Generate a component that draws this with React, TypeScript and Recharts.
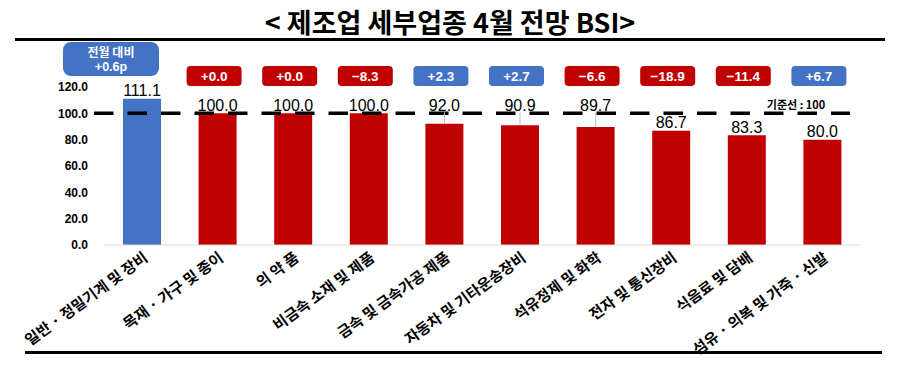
import { BarChart, Bar, XAxis, YAxis, Cell, LabelList, ReferenceLine } from 'recharts';

// 제조업 세부업종 4월 전망 BSI
const categories = [
    '일반 · 정밀기계 및 장비',
    '목재 · 가구 및 종이',
    '의 약 품',
    '비금속 소재 및 제품',
    '금속 및 금속가공 제품',
    '자동차 및 기타운송장비',
    '석유정제 및 화학',
    '전자 및 통신장비',
    '식음료 및 담배',
    '섬유 · 의복 및 가죽 · 신발',
];
const bsiValues = [111.1, 100.0, 100.0, 100.0, 92.0, 90.9, 89.7, 86.7, 83.3, 80.0];
const monthChanges = [0.6, 0.0, 0.0, -8.3, 2.3, 2.7, -6.6, -18.9, -11.4, 6.7];
const yTicks = [0, 20, 40, 60, 80, 100, 120];
const baseLine = 100;

const BLUE = '#4472C4';
const RED = '#C00000';
const KR_FONT = '"Noto Sans CJK KR", "Noto Sans", sans-serif';
const NUM_FONT = '"Liberation Sans", Arial, sans-serif';

const data = categories.map((name, i) => ({ name, bsi: bsiValues[i], change: monthChanges[i] }));

const fmtChange = (v: number) => `${v >= 0 ? '+' : '−'}${Math.abs(v).toFixed(1)}`;

function ValueLabel(props: any) {
    const vb = props.viewBox || props;
    const { x, y, width, height } = vb;
    const value = Number(props.value);
    const cx = x + width / 2;
    const bottom = y + height;
    const ppu = height / value;
    const yBase = bottom - baseLine * ppu;
    // labels that would sit on the base line are lifted above it with a leader line
    const lifted = value < baseLine && (baseLine - value) * ppu < 15;
    const ty = lifted ? yBase - 8 : y - 8;
    return (
        <g>
            {lifted && <line x1={cx} x2={cx} y1={ty + 7} y2={y} stroke="#bfbfbf" strokeWidth={1} />}
            <text x={cx} y={ty} textAnchor="middle" dominantBaseline="central" fontSize={16} fontFamily={NUM_FONT} fill="#000">
                {value.toFixed(1)}
            </text>
        </g>
    );
}

function ChangeBadge(props: any) {
    const vb = props.viewBox || props;
    const { x, y, width, height } = vb;
    const index = props.index;
    const value = Number(props.value);
    const cx = x + width / 2;
    const bottom = y + height;
    const ppu = height / bsiValues[index];
    const yTop = bottom - 120 * ppu;
    const fill = value > 0 ? BLUE : RED;

    if (index === 0) {
        return (
            <g>
                <rect x={cx - 79} y={yTop - 45} width={96} height={34} rx={8} fill={fill} />
                <text x={cx - 31} y={yTop - 36} textAnchor="middle" dominantBaseline="central" fill="#fff" fontSize={12} fontWeight="bold" fontFamily={KR_FONT}>
                    전월 대비
                </text>
                <text x={cx - 31} y={yTop - 20} textAnchor="middle" dominantBaseline="central" fill="#fff" fontSize={12.5} fontWeight="bold" fontFamily={NUM_FONT}>
                    {fmtChange(value)}p
                </text>
            </g>
        );
    }
    return (
        <g>
            <rect x={cx - 31} y={yTop - 21} width={55} height={20} rx={4} fill={fill} />
            <text x={cx - 3.5} y={yTop - 11} textAnchor="middle" dominantBaseline="central" fill="#fff" fontSize={13.5} fontWeight="bold" fontFamily={NUM_FONT}>
                {fmtChange(value)}
            </text>
        </g>
    );
}

function CategoryTick(props: any) {
    const { x, y, payload } = props;
    const ax = x + 7;
    const ay = y + 13;
    return (
        <text x={ax} y={ay} transform={`rotate(-36, ${ax}, ${ay})`} textAnchor="end" fontSize={15} fontWeight="bold" fontFamily={KR_FONT} fill="#000">
            {payload.value}
        </text>
    );
}

function BaseLineShape(props: any) {
    const { x1, y1, x2 } = props;
    return (
        <g>
            <line x1={x1 - 10} x2={x2 - 10} y1={y1} y2={y1} stroke="#000" strokeWidth={3.5} strokeDasharray="19.5 14" />
            <text x={x2 - 64} y={y1 - 9} textAnchor="middle" dominantBaseline="central" fontSize={11} fontWeight="bold" fontFamily={KR_FONT} fill="#000">
                기준선 : {baseLine}
            </text>
        </g>
    );
}

export default function App() {
    return (
        <div style={{ position: 'absolute', left: 0, top: 0, width: 900, height: 369, background: '#fff', overflow: 'hidden' }}>
            <div style={{ position: 'absolute', left: 0, top: 5, width: 900, textAlign: 'center', fontFamily: KR_FONT, fontWeight: 'bold', fontSize: 27, lineHeight: '34px', color: '#000' }}>
                &lt; 제조업 세부업종 4월 전망 BSI&gt;
            </div>
            <div style={{ position: 'absolute', left: 15, top: 37.5, width: 870, height: 3, background: '#000' }} />
            <div style={{ position: 'absolute', left: 25, top: 350.5, width: 857, height: 3, background: '#000' }} />

            <div style={{ position: 'absolute', left: 0, top: 0 }}>
                <BarChart width={900} height={369} data={data} margin={{ top: 87, right: 40, bottom: 14, left: 0 }}>
                    <XAxis
                        dataKey="name"
                        interval={0}
                        height={110}
                        axisLine={{ stroke: '#d9d9d9' }}
                        tickLine={false}
                        tickSize={0}
                        tick={<CategoryTick />}
                    />
                    <YAxis
                        width={104}
                        domain={[0, 120]}
                        ticks={yTicks}
                        axisLine={false}
                        tickLine={false}
                        tickSize={0}
                        tickMargin={16}
                        tickFormatter={(v: number) => v.toFixed(1)}
                        tick={{ fontSize: 12, fontWeight: 'bold', fill: '#000', fontFamily: NUM_FONT }}
                    />
                    <Bar dataKey="bsi" barSize={38} isAnimationActive={false}>
                        {data.map((d, i) => (
                            <Cell key={`cell-${i}`} fill={d.bsi > baseLine ? BLUE : RED} />
                        ))}
                        <LabelList dataKey="bsi" content={<ValueLabel />} />
                        <LabelList dataKey="change" content={<ChangeBadge />} />
                    </Bar>
                    <ReferenceLine y={baseLine} shape={<BaseLineShape />} ifOverflow="visible" />
                </BarChart>
            </div>
        </div>
    );
}
